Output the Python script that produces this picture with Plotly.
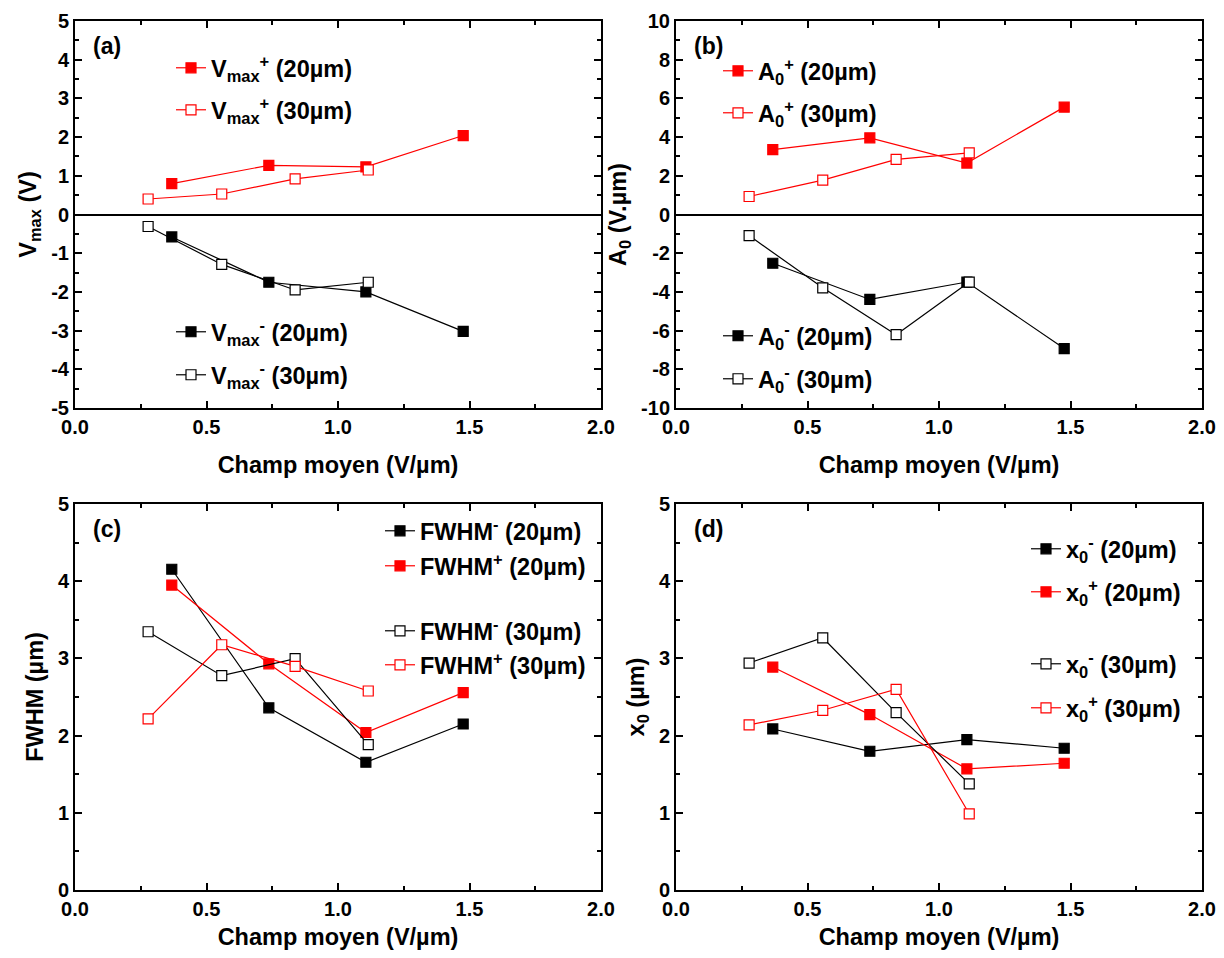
import plotly.graph_objects as go

# ---------------- data ----------------
x20 = [0.368, 0.737, 1.106, 1.476]
x30 = [0.278, 0.558, 0.837, 1.115]

vmax_p20 = [0.80, 1.27, 1.23, 2.04]
vmax_p30 = [0.40, 0.53, 0.92, 1.15]
vmax_m20 = [-0.58, -1.75, -2.00, -3.02]
vmax_m30 = [-0.31, -1.29, -1.95, -1.75]

a0_p20 = [3.35, 3.96, 2.66, 5.55]
a0_p30 = [0.93, 1.78, 2.85, 3.18]
a0_m20 = [-2.52, -4.39, -3.49, -6.93]
a0_m30 = [-1.09, -3.79, -6.21, -3.49]

fwhm_m20 = [4.155, 2.36, 1.655, 2.15]
fwhm_p20 = [3.95, 2.93, 2.04, 2.556]
fwhm_m30 = [3.345, 2.776, 2.996, 1.884]
fwhm_p30 = [2.216, 3.177, 2.897, 2.578]

x0_m20 = [2.086, 1.797, 1.948, 1.836]
x0_p20 = [2.888, 2.272, 1.569, 1.642]
x0_m30 = [2.94, 3.267, 2.297, 1.375]
x0_p30 = [2.138, 2.328, 2.60, 0.987]

x_ticks = [0.0, 0.5, 1.0, 1.5, 2.0]
x_ticktext = ["0.0", "0.5", "1.0", "1.5", "2.0"]
ya_ticks = [-5, -4, -3, -2, -1, 0, 1, 2, 3, 4, 5]
yb_ticks = [-10, -8, -6, -4, -2, 0, 2, 4, 6, 8, 10]
yc_ticks = [0, 1, 2, 3, 4, 5]

def tt(vals):
    return [str(v) for v in vals]

# ---------------- styling ----------------
FONT = "Liberation Sans, Arial, sans-serif"
RED = "#ff0000"
BLACK = "#000000"

fig = go.Figure()

def add(xs, ys, color, filled, name, xa, ya, legend):
    fig.add_trace(go.Scatter(
        x=xs, y=ys, mode="lines+markers", name=name,
        xaxis=xa, yaxis=ya, legend=legend,
        line=dict(color=color, width=1.2),
        marker=dict(symbol="square", size=10,
                    color=color if filled else "white",
                    line=dict(color=color, width=1.2)),
    ))

# panel a
add(x20, vmax_p20, RED, True, "<b>V<sub>max</sub><sup>+</sup> (20µm)</b>", "x", "y", "legend")
add(x30, vmax_p30, RED, False, "<b>V<sub>max</sub><sup>+</sup> (30µm)</b>", "x", "y", "legend2")
add(x20, vmax_m20, BLACK, True, "<b>V<sub>max</sub><sup>-</sup> (20µm)</b>", "x", "y", "legend3")
add(x30, vmax_m30, BLACK, False, "<b>V<sub>max</sub><sup>-</sup> (30µm)</b>", "x", "y", "legend4")
# panel b
add(x20, a0_p20, RED, True, "<b>A<sub>0</sub><sup>+</sup> (20µm)</b>", "x2", "y2", "legend5")
add(x30, a0_p30, RED, False, "<b>A<sub>0</sub><sup>+</sup> (30µm)</b>", "x2", "y2", "legend6")
add(x20, a0_m20, BLACK, True, "<b>A<sub>0</sub><sup>-</sup> (20µm)</b>", "x2", "y2", "legend7")
add(x30, a0_m30, BLACK, False, "<b>A<sub>0</sub><sup>-</sup> (30µm)</b>", "x2", "y2", "legend8")
# panel c
add(x20, fwhm_m20, BLACK, True, "<b>FWHM<sup>-</sup> (20µm)</b>", "x3", "y3", "legend9")
add(x20, fwhm_p20, RED, True, "<b>FWHM<sup>+</sup> (20µm)</b>", "x3", "y3", "legend10")
add(x30, fwhm_m30, BLACK, False, "<b>FWHM<sup>-</sup> (30µm)</b>", "x3", "y3", "legend11")
add(x30, fwhm_p30, RED, False, "<b>FWHM<sup>+</sup> (30µm)</b>", "x3", "y3", "legend12")
# panel d
add(x20, x0_m20, BLACK, True, "<b>x<sub>0</sub><sup>-</sup> (20µm)</b>", "x4", "y4", "legend13")
add(x20, x0_p20, RED, True, "<b>x<sub>0</sub><sup>+</sup> (20µm)</b>", "x4", "y4", "legend14")
add(x30, x0_m30, BLACK, False, "<b>x<sub>0</sub><sup>-</sup> (30µm)</b>", "x4", "y4", "legend15")
add(x30, x0_p30, RED, False, "<b>x<sub>0</sub><sup>+</sup> (30µm)</b>", "x4", "y4", "legend16")

# page has an 8px body margin; figure sized to fit the 1224x958 window
OFF = 8
W, H = 1224 - 2 * OFF, 958 - 2 * OFF

def px_x(p):
    return (p - OFF) / W

def px_y(p):
    return 1 - (p - OFF) / H

left_dom = [px_x(75), px_x(601)]
right_dom = [px_x(676), px_x(1202)]
top_dom = [px_y(408), px_y(21)]
bot_dom = [px_y(890), px_y(504)]

def xaxis(dom, anchor, standoff):
    return dict(
        domain=dom, anchor=anchor, range=[0, 2], automargin=False,
        tickmode="array", tickvals=x_ticks, ticktext=x_ticktext,
        showline=True, linecolor="black", linewidth=2, mirror="allticks",
        ticks="inside", ticklen=7, tickwidth=2, tickcolor="black",
        minor=dict(ticks="inside", ticklen=4, tickwidth=1.5, dtick=0.25, tickcolor="black", showgrid=False),
        showgrid=False, zeroline=False,
        tickfont=dict(family=FONT, size=20, color="black", weight="bold"),
        title=dict(text="<b>Champ moyen (V/µm)</b>", font=dict(family=FONT, size=23.5, color="black"), standoff=standoff),
    )

def yaxis(dom, anchor, rng, ticks, minor_dt, title, zl):
    return dict(
        domain=dom, anchor=anchor, range=rng, automargin=False,
        tickmode="array", tickvals=ticks, ticktext=tt(ticks),
        showline=True, linecolor="black", linewidth=2, mirror="allticks",
        ticks="inside", ticklen=7, tickwidth=2, tickcolor="black",
        minor=dict(ticks="inside", ticklen=4, tickwidth=1.5, dtick=minor_dt, tickcolor="black", showgrid=False),
        showgrid=False, zeroline=zl, zerolinecolor="black", zerolinewidth=2,
        tickfont=dict(family=FONT, size=20, color="black", weight="bold"),
        title=dict(text=title, font=dict(family=FONT, size=23.5, color="black"), standoff=8),
    )

layout = dict(
    width=W, height=H,
    margin=dict(l=0, r=0, t=0, b=0, autoexpand=False),
    paper_bgcolor="white", plot_bgcolor="white",
    font=dict(family=FONT, color="black"),
    xaxis=xaxis(left_dom, "y", 20),
    yaxis=yaxis(top_dom, "x", [-5, 5], ya_ticks, 0.5, "<b>V<sub>max</sub> (V)</b>", True),
    xaxis2=xaxis(right_dom, "y2", 20),
    yaxis2=yaxis(top_dom, "x2", [-10, 10], yb_ticks, 1, "<b>A<sub>0</sub> (V.µm)</b>", True),
    xaxis3=xaxis(left_dom, "y3", 25),
    yaxis3=yaxis(bot_dom, "x3", [0, 5], yc_ticks, 0.5, "<b>FWHM (µm)</b>", False),
    xaxis4=xaxis(right_dom, "y4", 25),
    yaxis4=yaxis(bot_dom, "x4", [0, 5], yc_ticks, 0.5, "<b>x<sub>0</sub> (µm)</b>", False),
    showlegend=True,
)

# legend positions: (text-start pixel x, item center pixel y) in window pixels
legend_pos = [
    (212, 68), (212, 110), (212, 332), (212, 375),
    (759, 71), (759, 113), (759, 336), (759, 379),
    (421, 531), (421, 566), (421, 631), (421, 665),
    (1067, 549), (1067, 592), (1067, 664), (1067, 708),
]
for i, (tx, ty) in enumerate(legend_pos):
    key = "legend" if i == 0 else f"legend{i+1}"
    layout[key] = dict(
        x=px_x(tx - 41), y=px_y(ty), xanchor="left", yanchor="middle",
        bgcolor="rgba(0,0,0,0)", borderwidth=0,
        font=dict(family=FONT, size=23.5, color="black"),
    )

fig.update_layout(**layout)

labels = [("(a)", "x", "y"), ("(b)", "x2", "y2"), ("(c)", "x3", "y3"), ("(d)", "x4", "y4")]
for t, xa, ya in labels:
    fig.add_annotation(text=f"<b>{t}</b>", xref=f"{xa} domain", yref=f"{ya} domain",
                       x=0.03, y=0.935, xanchor="left", yanchor="middle", showarrow=False,
                       font=dict(family=FONT, size=23, color="black"))

fig.write_html("out.html")
